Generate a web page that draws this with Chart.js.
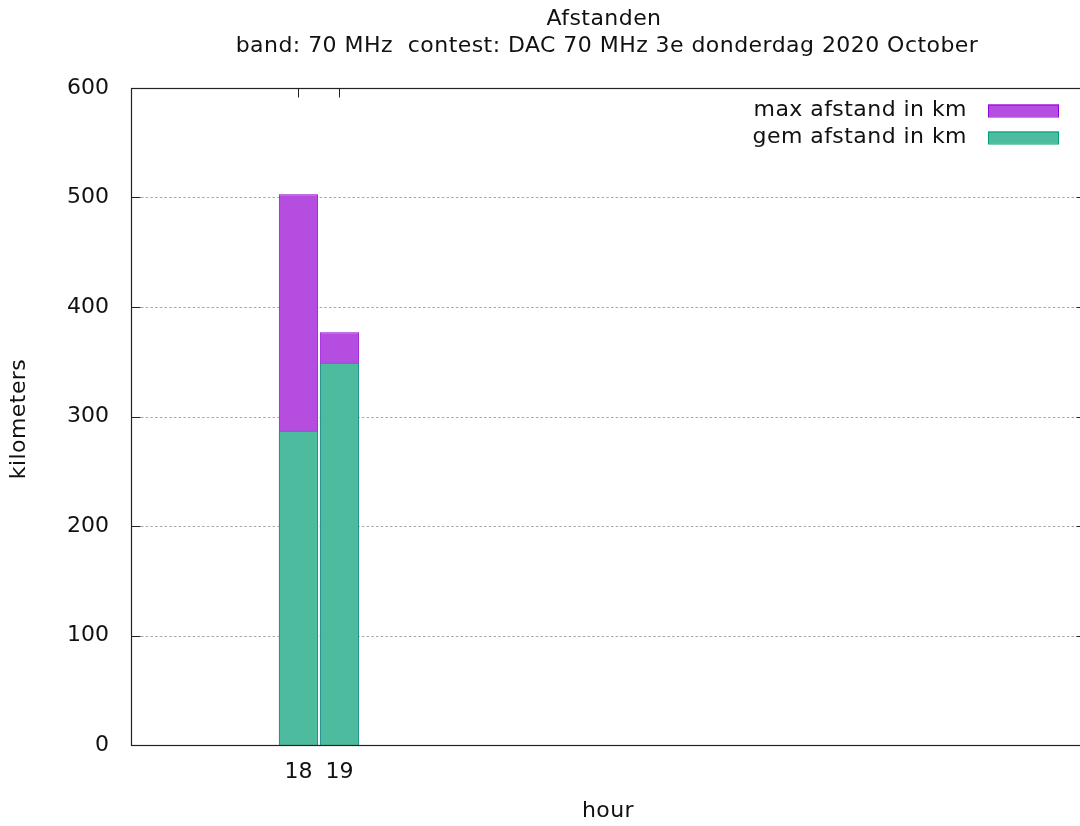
<!DOCTYPE html>
<html lang="nl">
<head>
  <meta charset="UTF-8">
  <title>Afstanden</title>
  <style>
    html, body {
      margin: 0;
      padding: 0;
      background: #fff;
      overflow: hidden;
    }
    #wrap {
      position: relative;
      width: 1090px;
      height: 826px;
    }
  </style>
  <script src="https://cdn.jsdelivr.net/npm/chart.js"></script>
</head>
<body>
  <div id="wrap"><canvas id="chart"></canvas></div>

  <script>
    // data
    const hours = [18, 19];
    const maxAfstand = [503, 377];
    const gemAfstand = [287, 349];
    const yTicks = [0, 100, 200, 300, 400, 500, 600];

    const titleLines = ['Afstanden', 'band: 70 MHz  contest: DAC 70 MHz 3e donderdag 2020 October'];
    const xTitle = 'hour';
    const yTitle = 'kilometers';

    const FONT = '22px "DejaVu Sans"';
    const TEXT = '#111';

    const violet = '#9400d3';
    const violetFill = 'rgb(180,77,224)';
    const green = '#009e73';
    const greenFill = 'rgb(77,187,157)';

    // gnuplot-like frame, ticks, grid, titles and legend
    const decor = {
      id: 'decor',
      beforeDatasetsDraw(chart) {
        const { ctx, chartArea: a, scales: { x, y } } = chart;
        ctx.save();
        // dotted grid
        ctx.strokeStyle = '#a8a8a8';
        ctx.lineWidth = 1;
        ctx.setLineDash([2.5, 2.2]);
        yTicks.slice(1, -1).forEach(v => {
          const py = Math.round(y.getPixelForValue(v)) + 0.5;
          ctx.beginPath();
          ctx.moveTo(a.left + 10, py);
          ctx.lineTo(a.right, py);
          ctx.stroke();
        });
        ctx.setLineDash([]);
        // bottom x ticks (hidden under the bars)
        ctx.strokeStyle = '#222';
        hours.forEach(h => {
          const px = Math.round(x.getPixelForValue(h)) + 0.5;
          ctx.beginPath();
          ctx.moveTo(px, a.bottom);
          ctx.lineTo(px, a.bottom - 9);
          ctx.stroke();
        });
        ctx.restore();
      },
      afterDatasetsDraw(chart) {
        const { ctx, chartArea: a, scales: { x, y } } = chart;
        ctx.save();
        ctx.strokeStyle = '#222';
        ctx.lineWidth = 1.2;
        const l = Math.round(a.left) + 0.5, t = Math.round(a.top) + 0.5;
        const r = Math.round(a.right) + 0.5, b = Math.round(a.bottom) + 0.5;
        ctx.strokeRect(l, t, r - l, b - t);
        ctx.lineWidth = 1;
        yTicks.forEach(v => {
          const py = Math.round(y.getPixelForValue(v)) + 0.5;
          ctx.beginPath();
          ctx.moveTo(l, py); ctx.lineTo(l + 9, py);
          ctx.moveTo(r, py); ctx.lineTo(r - 9, py);
          ctx.stroke();
        });
        hours.forEach(h => {
          const px = Math.round(x.getPixelForValue(h)) + 0.5;
          ctx.beginPath();
          ctx.moveTo(px, t); ctx.lineTo(px, t + 9);
          ctx.stroke();
        });

        // tick labels on x
        ctx.font = FONT;
        ctx.fillStyle = TEXT;
        ctx.textAlign = 'center';
        ctx.textBaseline = 'middle';
        hours.forEach(h => ctx.fillText(String(h), x.getPixelForValue(h), 772));

        // titles
        ctx.letterSpacing = '0.45px';
        ctx.fillText(titleLines[0], 604, 19);
        ctx.fillText(titleLines[1], 607, 46);
        ctx.fillText(xTitle, 608, 811);
        ctx.save();
        ctx.translate(19, 419);
        ctx.rotate(-Math.PI / 2);
        ctx.fillText(yTitle, 0, 0);
        ctx.restore();

        // legend: text right aligned, swatch on the right
        ctx.textAlign = 'right';
        chart.data.datasets.forEach((ds, i) => {
          const cy = 110.5 + i * 27;
          ctx.fillStyle = TEXT;
          ctx.fillText(ds.label, 967, cy);
          ctx.fillStyle = ds.backgroundColor;
          ctx.fillRect(988, cy - 6, 71, 12);
          ctx.strokeStyle = ds.borderColor;
          ctx.lineWidth = 1;
          ctx.strokeRect(988.5, cy - 5.5, 70, 12);
        });
        ctx.restore();
      }
    };

    new Chart(document.getElementById('chart'), {
      type: 'bar',
      data: {
        datasets: [
          {
            label: 'max afstand in km',
            data: hours.map((h, i) => ({ x: h, y: maxAfstand[i] })),
            backgroundColor: violetFill,
            borderColor: violet,
            borderWidth: 1,
            order: 1
          },
          {
            label: 'gem afstand in km',
            data: hours.map((h, i) => ({ x: h, y: gemAfstand[i] })),
            backgroundColor: greenFill,
            borderColor: green,
            borderWidth: 1,
            order: 0
          }
        ]
      },
      options: {
        responsive: true,
        maintainAspectRatio: false,
        animation: false,
        grouped: false,
        barPercentage: 0.96,
        categoryPercentage: 1,
        layout: { padding: { top: 88, right: 5, left: 0, bottom: 0 } },
        plugins: {
          legend: { display: false },
          title: { display: false },
          tooltip: { enabled: false }
        },
        scales: {
          x: {
            type: 'linear',
            offset: false,
            min: 13.915,
            max: 37.183,
            grid: { display: false, offset: false },
            border: { display: false },
            ticks: { display: false },
            afterFit(s) { s.height = 81; }
          },
          y: {
            min: 0,
            max: 600,
            grid: { display: false, drawTicks: false },
            border: { display: false },
            afterBuildTicks(s) { s.ticks = yTicks.map(v => ({ value: v })); },
            ticks: {
              padding: 22,
              color: TEXT,
              font: { family: 'DejaVu Sans', size: 22 }
            },
            afterFit(s) { s.width = 131; }
          }
        }
      },
      plugins: [decor]
    });
  </script>
</body>
</html>
